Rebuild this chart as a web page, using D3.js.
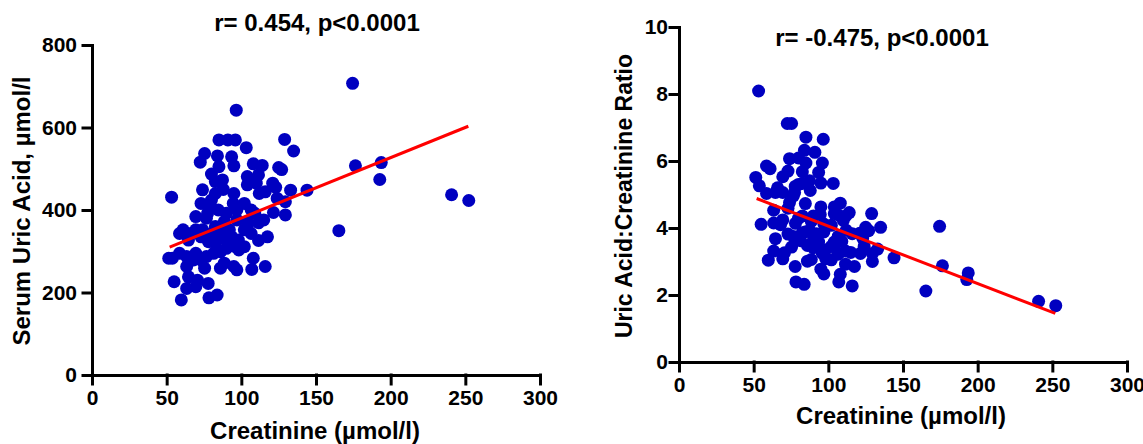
<!DOCTYPE html>
<html>
<head>
<meta charset="utf-8">
<script src="https://cdn.jsdelivr.net/npm/d3@7"></script>
<style>
  body { margin: 0; background: #fff; }
  svg { display: block; }
  text { font-family: Arial, "Liberation Sans", sans-serif; font-weight: bold; fill: #000; }
</style>
</head>
<body>
<svg width="1143" height="444"></svg>
<script>
// creatinine (µmol/l), serum uric acid (µmol/l), uric acid:creatinine ratio
var creatinine = [174.5, 96.6, 53.3, 85, 91, 96, 129, 103.3, 135, 75.4, 72.5, 84, 93.5, 95, 85, 108, 114, 125, 127, 176.4
  , 193.7, 192.7, 240.8, 252.3, 165.3, 80, 82.6, 87.4, 87.9, 74, 95, 104, 104, 110, 121, 112, 123, 133, 144, 124
  , 129.5, 121.5, 129.5, 80, 73, 94.6, 102, 84.6, 90, 69.5, 76.6, 109, 111.5, 104, 97, 61, 58.6, 69.5, 64.6, 73
  , 80, 87.4, 92, 102, 82.6, 90, 98, 111.5, 117.5, 86, 98.3, 69.5, 58.6, 51.4, 53.8, 63.4, 68, 76.6, 108, 63.4
  , 75.4, 86, 95, 97, 107, 116, 64.6, 70.6, 55, 63.4, 69.5, 77.8, 59.8, 78.3, 83.8, 82.6, 88.6, 93.5, 85, 96
  , 90, 106.6, 102, 74, 66, 78, 81.5, 73, 88.6, 111.5, 107, 77.4, 97, 106.6, 115, 116, 82.6, 77.8, 104]

var uricAcid = [707, 642, 431, 570, 570, 570, 571, 551, 543, 537, 516, 531, 529, 507, 505, 512, 508, 503, 498, 507
  , 515, 474, 437, 423, 350, 487, 469, 473, 450, 449, 440, 481, 461, 465, 465, 440, 455, 448, 448, 428
  , 420, 394, 388, 424, 416, 416, 416, 400, 392, 384, 380, 392, 369, 372, 376, 352, 343, 352, 327, 335
  , 343, 343, 352, 352, 319, 327, 327, 326, 335, 299, 303, 295, 295, 283, 283, 287, 279, 287, 283, 263
  , 259, 259, 263, 255, 256, 263, 238, 230, 226, 210, 214, 222, 182, 187, 194, 360, 372, 335, 331, 311
  , 307, 343, 311, 352, 343, 323, 295, 279, 271, 485, 469, 392, 400, 400, 376, 444, 440, 408, 360]

var ratio = [4.05, 6.65, 8.09, 6.71, 6.26, 5.94, 4.43, 5.33, 4.02, 7.12, 7.12, 6.32, 5.66, 5.34, 5.94, 4.74, 4.46, 4.02, 3.92, 2.87
  , 2.66, 2.46, 1.81, 1.68, 2.12, 6.09, 5.68, 5.41, 5.12, 6.07, 4.63, 4.63, 4.43, 4.23, 3.84, 3.93, 3.70, 3.37, 3.11, 3.45
  , 3.24, 3.24, 3.00, 5.30, 5.70, 4.40, 4.08, 4.73, 4.36, 5.53, 4.96, 3.60, 3.31, 3.58, 3.88, 5.77, 5.85, 5.06, 5.06, 4.59
  , 4.29, 3.92, 3.83, 3.45, 3.86, 3.63, 3.34, 2.92, 2.85, 3.48, 3.08, 4.24, 5.03, 5.51, 5.26, 4.53, 4.10, 3.75, 2.62, 4.15
  , 3.43, 3.01, 2.77, 2.63, 2.39, 2.27, 3.68, 3.26, 4.11, 3.31, 3.08, 2.85, 3.04, 2.39, 2.32, 4.36, 4.20, 3.58, 3.89, 3.24
  , 3.41, 3.22, 3.05, 4.76, 5.20, 4.14, 3.62, 3.82, 3.06, 4.35, 4.38, 5.06, 4.12, 3.75, 3.27, 3.83, 5.33, 5.24, 3.46]

// fitted lines, [x, y] at both ends
var fitUric = [[52, 310], [252, 603]]
var fitRatio = [[52, 4.88], [252, 1.45]]

var xTicks = [0, 50, 100, 150, 200, 250, 300]
var uricTicks = [0, 200, 400, 600, 800]
var ratioTicks = [0, 2, 4, 6, 8, 10]

var svg = d3.select('svg')

var panels = [
  { x: [92, 540], y: [375, 45], yMax: 800, yTicks: uricTicks, ys: uricAcid, fit: fitUric, pad: 6
  , title: 'r= 0.454, p<0.0001', tx: 317, ty: 31
  , ylab: 'Serum Uric Acid, µmol/l', lsize: 24, lx: 30, ly: 211
  , xlab: 'Creatinine (µmol/l)', xx: 315, xy: 439 }
, { x: [679, 1127], y: [362, 27], yMax: 10, yTicks: ratioTicks, ys: ratio, fit: fitRatio, pad: 2
  , title: 'r= -0.475, p<0.0001', tx: 882, ty: 46
  , ylab: 'Uric Acid:Creatinine Ratio', lsize: 23, lx: 632, ly: 196
  , xlab: 'Creatinine (µmol/l)', xx: 901, xy: 424 }
]

panels.forEach(function (p) {
  var x = d3.scaleLinear().domain([0, 300]).range(p.x)
    , y = d3.scaleLinear().domain([0, p.yMax]).range(p.y)
    , g = svg.append('g')

  var xa = g.append('g').attr('transform', 'translate(0,' + p.y[0] + ')')
    .call(d3.axisBottom(x).tickValues(xTicks).tickSize(9).tickSizeOuter(0).tickPadding(6))
  var ya = g.append('g').attr('transform', 'translate(' + p.x[0] + ',0)')
    .call(d3.axisLeft(y).tickValues(p.yTicks).tickSize(9).tickSizeOuter(0).tickPadding(p.pad))

  ;[xa, ya].forEach(function (a) {
    a.selectAll('path, line').attr('stroke', '#000').attr('stroke-width', 3).attr('stroke-linecap', 'square')
    a.selectAll('text').style('font-size', '21px').attr('fill', '#000')
  })

  g.selectAll('circle').data(creatinine).enter().append('circle')
    .attr('cx', function (d) { return x(d) })
    .attr('cy', function (d, i) { return y(p.ys[i]) })
    .attr('r', 6.5)
    .attr('fill', '#0000c0')

  g.append('path')
    .attr('d', d3.line().x(function (d) { return x(d[0]) }).y(function (d) { return y(d[1]) })(p.fit))
    .attr('stroke', '#ff0000').attr('stroke-width', 3).attr('fill', 'none')

  g.append('text').attr('x', p.tx).attr('y', p.ty).attr('text-anchor', 'middle')
    .style('font-size', '24px').text(p.title)
  g.append('text').attr('transform', 'translate(' + p.lx + ',' + p.ly + ') rotate(-90)')
    .attr('text-anchor', 'middle').style('font-size', p.lsize + 'px').text(p.ylab)
  g.append('text').attr('x', p.xx).attr('y', p.xy).attr('text-anchor', 'middle')
    .style('font-size', '24px').text(p.xlab)
})
</script>
</body>
</html>
